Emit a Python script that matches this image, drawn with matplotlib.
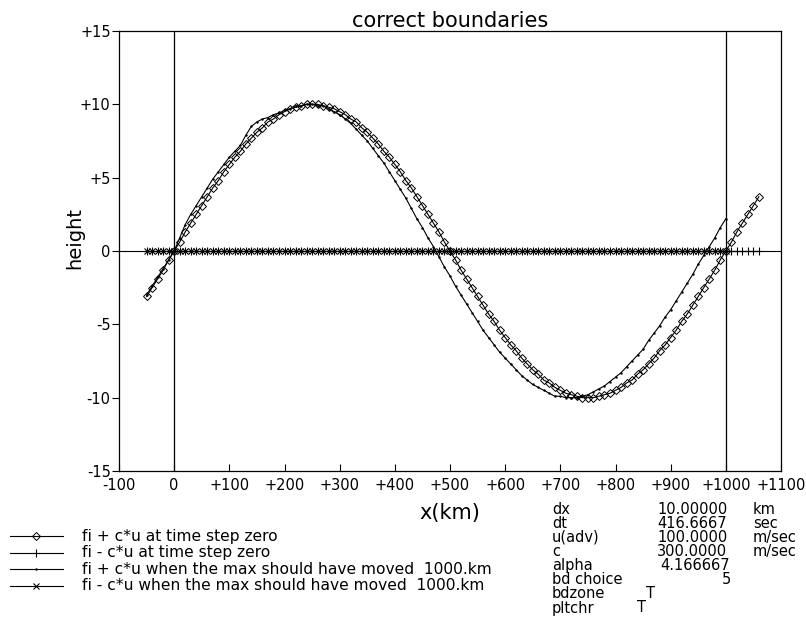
import numpy as np
import matplotlib
matplotlib.use("Agg")
import matplotlib.pyplot as plt
from matplotlib.lines import Line2D

plt.rcParams['font.family'] = ['DejaVu Sans']

# grid (dx = 10 km)
x_initial = np.arange(-50, 1061, 10)
x_final = np.arange(-50, 1001, 10)

# fi + c*u at time step zero
fplus_initial = [
    -3.1, -2.5, -1.9, -1.3, -0.6,
    0.0, 0.6, 1.3, 1.9, 2.5, 3.1, 3.7, 4.3, 4.8, 5.4,
    5.9, 6.4, 6.8, 7.3, 7.7, 8.1, 8.4, 8.8, 9.0, 9.3,
    9.5, 9.7, 9.8, 9.9, 10.0, 10.0, 10.0, 9.9, 9.8, 9.7,
    9.5, 9.3, 9.0, 8.8, 8.4, 8.1, 7.7, 7.3, 6.8, 6.4,
    5.9, 5.4, 4.8, 4.3, 3.7, 3.1, 2.5, 1.9, 1.3, 0.6,
    0.0, -0.6, -1.3, -1.9, -2.5, -3.1, -3.7, -4.3, -4.8, -5.4,
    -5.9, -6.4, -6.8, -7.3, -7.7, -8.1, -8.4, -8.8, -9.0, -9.3,
    -9.5, -9.7, -9.8, -9.9, -10.0, -10.0, -10.0, -9.9, -9.8, -9.7,
    -9.5, -9.3, -9.0, -8.8, -8.4, -8.1, -7.7, -7.3, -6.8, -6.4,
    -5.9, -5.4, -4.8, -4.3, -3.7, -3.1, -2.5, -1.9, -1.3, -0.6,
    0.0, 0.6, 1.3, 1.9, 2.5, 3.1, 3.7,
]
# fi - c*u at time step zero
fminus_initial = np.zeros(len(x_initial))

# fi + c*u when the max should have moved 1000 km
fplus_final = [
    -3.0, -2.4, -1.8, -1.2, -0.6,
    0.0, 0.9, 1.8, 2.5, 3.1, 3.7, 4.3, 4.9, 5.4, 5.9,
    6.4, 6.8, 7.2, 7.9, 8.5, 8.8, 9.0, 9.1, 9.3, 9.4,
    9.6, 9.7, 9.9, 9.9, 10.0, 10.0, 9.9, 9.9, 9.7, 9.5,
    9.3, 9.0, 8.7, 8.3, 7.9, 7.5, 7.0, 6.5, 6.0, 5.4,
    4.8, 4.2, 3.6, 2.9, 2.2, 1.6, 0.9, 0.3, -0.4, -1.1,
    -1.7, -2.4, -3.0, -3.6, -4.2, -4.8, -5.4, -5.9, -6.4, -6.9,
    -7.3, -7.7, -8.1, -8.5, -8.8, -9.1, -9.3, -9.5, -9.7, -9.9,
    -9.9, -10.0, -10.0, -10.0, -9.9, -9.8, -9.6, -9.4, -9.2, -8.9,
    -8.6, -8.3, -7.9, -7.5, -7.1, -6.7, -6.1, -5.6, -5.1, -4.5,
    -4.0, -3.4, -2.8, -2.2, -1.6, -0.9, -0.3, 0.3, 0.9, 1.6,
    2.2,
]
# fi - c*u when the max should have moved 1000 km
fminus_final = np.zeros(len(x_final))

legend_labels = [
    "fi + c*u at time step zero",
    "fi - c*u at time step zero",
    "fi + c*u when the max should have moved  1000.km",
    "fi - c*u when the max should have moved  1000.km",
]

xticks = [-100, 0, 100, 200, 300, 400, 500, 600, 700, 800, 900, 1000, 1100]
xtick_labels = ["-100", "0", "+100", "+200", "+300", "+400", "+500", "+600",
                "+700", "+800", "+900", "+1000", "+1100"]
yticks = [-15, -10, -5, 0, 5, 10, 15]
ytick_labels = ["-15", "-10", "-5", "0", "+5", "+10", "+15"]

param_names = ["dx", "dt", "u(adv)", "c", "alpha", "bd choice", "bdzone", "pltchr"]
param_values = ["10.00000", "416.6667", "100.0000", "300.0000", "4.166667", "5", "T", "T"]
param_units = ["km", "sec", "m/sec", "m/sec", "", "", "", ""]

W, H = 806, 631
fig = plt.figure(figsize=(W / 100, H / 100), dpi=100)
ax = fig.add_axes([119 / W, 1 - 471 / H, 662 / W, 440 / H])

styles = [
    dict(marker='D', markersize=4.5, mfc='none', mew=0.7),
    dict(marker='+', markersize=6, mew=0.8),
    dict(marker='.', markersize=1.5),
    dict(marker='x', markersize=4.5, mew=0.8),
]
series = [(x_initial, fplus_initial), (x_initial, fminus_initial),
          (x_final, fplus_final), (x_final, fminus_final)]
for (xs, ys), st in zip(series, styles):
    ax.plot(xs, ys, color='black', lw=0.8, **st)

ax.axvline(0, color='black', lw=0.9)
ax.axvline(1000, color='black', lw=0.9)
ax.axhline(0, color='black', lw=0.8, zorder=0)

ax.set_xlim(-100, 1100)
ax.set_ylim(-15, 15)
ax.set_xticks(xticks, labels=xtick_labels)
ax.set_yticks(yticks, labels=ytick_labels)
ax.tick_params(axis='x', direction='in', length=5, labelsize=10.5, pad=5)
ax.tick_params(axis='y', direction='out', length=5, labelsize=10.5, pad=1)
for sp in ax.spines.values():
    sp.set_linewidth(0.9)

ax.set_title("correct boundaries", fontsize=15, pad=3)
ax.set_ylabel("height", fontsize=14)
ax.yaxis.set_label_coords(-0.053, 0.53)
ax.set_xlabel("x(km)", fontsize=15, labelpad=7)

# legend drawn at bottom left
leg_rows = [536, 552.5, 569, 585.5]
for y, lab, st in zip(leg_rows, legend_labels, styles):
    yf = 1 - y / H
    fig.add_artist(Line2D([10 / W, 63 / W], [yf, yf], color='black', lw=0.8,
                          transform=fig.transFigure))
    fig.add_artist(Line2D([36 / W], [yf], color='black', lw=0,
                          transform=fig.transFigure, **st))
    fig.text(82 / W, yf, lab, fontsize=11.2, va='center', ha='left')

# run parameters
row_y = [510, 524, 537.5, 551.5, 565.5, 580, 594, 608]
value_x = [657, 657, 657, 657, 660, 722, 646, 637]
for y, name, val, unit, vx in zip(row_y, param_names, param_values, param_units, value_x):
    yf = 1 - y / H
    fig.text(552 / W, yf, name, fontsize=10.5, va='center', ha='left')
    fig.text(vx / W, yf, val, fontsize=10.5, va='center', ha='left')
    if unit:
        fig.text(753 / W, yf, unit, fontsize=10.5, va='center', ha='left')

plt.savefig("out.png", dpi=100)
